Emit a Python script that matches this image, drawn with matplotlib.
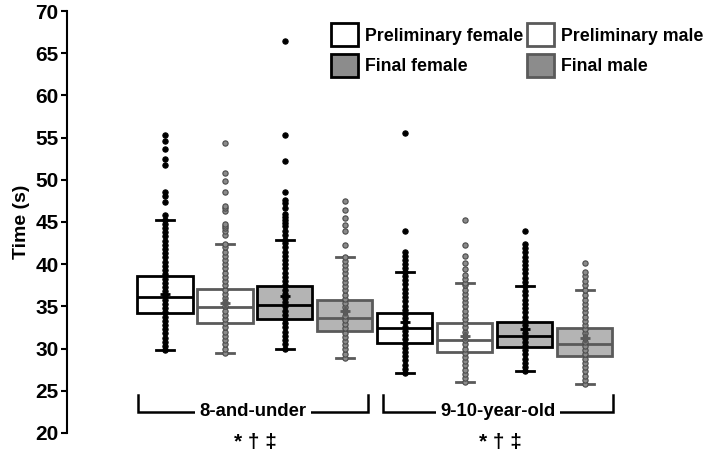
import numpy as np
import matplotlib as mpl
import matplotlib.pyplot as plt
from matplotlib.patches import Patch

mpl.use('Agg')
plt.rcParams['font.family'] = ['Liberation Sans', 'DejaVu Sans']
plt.rcParams['font.weight'] = 'bold'

labels = ['Preliminary female', 'Preliminary male', 'Final female', 'Final male']
groups = ['8-and-under', '9-10-year-old']
stars = '* \u2020 \u2021'

# box statistics, order: PF, PM, FF, FM for 8U then 9-10
q1 = [34.2, 33.0, 33.5, 32.1, 30.7, 29.6, 30.2, 29.1]
med = [36.1, 34.9, 35.2, 33.6, 32.4, 31.0, 31.5, 30.6]
q3 = [38.6, 37.1, 37.4, 35.8, 34.2, 33.0, 33.2, 32.4]
wlo = [29.8, 29.5, 30.0, 28.9, 27.1, 26.0, 27.3, 25.8]
whi = [45.2, 42.4, 42.9, 40.9, 39.1, 37.8, 37.4, 36.9]
means = [36.5, 35.4, 36.2, 34.5, 33.2, 31.5, 32.3, 31.2]

# individual swimmer times (column of dots)
pts = [
    [29.8, 30.3, 30.8, 31.3, 31.8, 32.3, 32.8, 33.3, 33.8, 34.3, 34.8, 35.3, 35.8,
     36.3, 36.8, 37.3, 37.8, 38.3, 38.8, 39.3, 39.8, 40.3, 40.8, 41.3, 41.8, 42.3,
     42.8, 43.3, 43.8, 44.3, 44.8, 45.2, 45.8, 47.4, 48.1, 48.5, 51.7, 52.5, 53.7,
     54.6, 55.3],
    [29.5, 30.0, 30.5, 31.0, 31.5, 32.0, 32.5, 33.0, 33.5, 34.0, 34.5, 35.0, 35.5,
     36.0, 36.5, 37.0, 37.5, 38.0, 38.5, 39.0, 39.5, 40.0, 40.5, 41.0, 41.5, 42.0,
     42.4, 43.5, 43.9, 44.3, 44.5, 44.8, 46.3, 46.6, 46.9, 48.6, 49.8, 50.8, 54.4],
    [30.0, 30.5, 31.0, 31.5, 32.0, 32.5, 33.0, 33.5, 34.0, 34.5, 35.0, 35.5, 36.0,
     36.5, 37.0, 37.5, 38.0, 38.5, 39.0, 39.5, 40.0, 40.5, 41.0, 41.5, 42.0, 42.5,
     42.9, 43.5, 43.9, 44.5, 44.9, 45.2, 45.6, 46.0, 46.6, 47.2, 47.6, 48.6, 52.2,
     55.3, 66.5],
    [28.9, 29.4, 29.9, 30.4, 30.9, 31.4, 31.9, 32.4, 32.9, 33.4, 33.9, 34.4, 34.9,
     35.4, 35.9, 36.4, 36.9, 37.4, 37.9, 38.4, 38.9, 39.4, 39.9, 40.4, 40.9, 42.3,
     43.9, 44.7, 45.5, 46.4, 47.5],
    [27.1, 27.6, 28.1, 28.6, 29.1, 29.6, 30.1, 30.6, 31.1, 31.6, 32.1, 32.6, 33.1,
     33.6, 34.1, 34.6, 35.1, 35.6, 36.1, 36.6, 37.1, 37.6, 38.1, 38.6, 39.1, 39.5,
     40.0, 40.5, 41.0, 41.5, 43.9, 55.6],
    [26.0, 26.5, 27.0, 27.5, 28.0, 28.5, 29.0, 29.5, 30.0, 30.5, 31.0, 31.5, 32.0,
     32.5, 33.0, 33.5, 34.0, 34.5, 35.0, 35.5, 36.0, 36.5, 37.0, 37.5, 37.8, 38.3,
     38.7, 39.4, 40.2, 41.0, 42.3, 45.2],
    [27.3, 27.8, 28.3, 28.8, 29.3, 29.8, 30.3, 30.8, 31.3, 31.8, 32.3, 32.8, 33.3,
     33.8, 34.3, 34.8, 35.3, 35.8, 36.3, 36.8, 37.4, 37.9, 38.4, 38.9, 39.4, 39.9,
     40.4, 40.9, 41.4, 41.9, 42.4, 43.9],
    [25.8, 26.3, 26.8, 27.3, 27.8, 28.3, 28.8, 29.3, 29.8, 30.3, 30.8, 31.3, 31.8,
     32.3, 32.8, 33.3, 33.8, 34.3, 34.8, 35.3, 35.8, 36.3, 36.9, 37.5, 38.0, 38.6,
     39.1, 40.2],
]

box_fill = ['white', 'white', '#b4b4b4', '#b4b4b4']
box_edge = ['black', '#5a5a5a', 'black', '#5a5a5a']
dot_face = ['black', '#8a8a8a', 'black', '#8a8a8a']
dot_edge = ['black', '#4a4a4a', 'black', '#4a4a4a']
leg_fill = ['white', 'white', '#8c8c8c', '#8c8c8c']

fig = plt.figure(figsize=(7.09, 4.53), dpi=100)
ax = fig.add_axes([0.0945, 0.0442, 0.8925, 0.9315])

for i in range(8):
    k = i % 4
    st = dict(med=med[i], q1=q1[i], q3=q3[i], whislo=wlo[i], whishi=whi[i],
              mean=means[i], fliers=[])
    ax.bxp([st], positions=[i], widths=0.92, capwidths=0.3, patch_artist=True,
           showfliers=False, showmeans=True,
           boxprops=dict(facecolor=box_fill[k], edgecolor=box_edge[k], linewidth=2),
           medianprops=dict(color=box_edge[k], linewidth=2),
           whiskerprops=dict(color=box_edge[k], linewidth=2),
           capprops=dict(color=box_edge[k], linewidth=2),
           meanprops=dict(marker='+', markeredgecolor=box_edge[k], markersize=7,
                          markeredgewidth=2, zorder=5))
    ax.plot(np.full(len(pts[i]), i), pts[i], 'o', ms=3.8, mfc=dot_face[k],
            mec=dot_edge[k], mew=0.8, zorder=4)

ax.set_xlim(-1.633, 8.917)
ax.set_ylim(20, 70)
ax.set_yticks(range(20, 71, 5))
ax.set_xticks([])
for s in ['top', 'right', 'bottom']:
    ax.spines[s].set_visible(False)
ax.spines['left'].set_linewidth(1.5)
ax.tick_params(axis='y', length=4, width=1.5, labelsize=15, pad=2)
for t in ax.get_yticklabels():
    t.set_fontweight('bold')
ax.set_ylabel('Time (s)', fontsize=14, fontweight='bold', labelpad=4)

# group brackets
brk = [(-0.45, 3.38), (3.63, 7.47)]
for (a, b), g in zip(brk, groups):
    ax.plot([a, a, b, b], [24.5, 22.5, 22.5, 24.5], color='black', lw=1.8,
            clip_on=False, solid_joinstyle='miter')
    ax.text((a + b) / 2, 22.5, g, ha='center', va='center', fontsize=13.3,
            fontweight='bold', bbox=dict(facecolor='white', edgecolor='none', pad=3))
    ax.text((a + b) / 2 + 0.05, 18.9, stars, ha='center', va='center',
            fontsize=15, fontweight='bold', clip_on=False)

handles = [Patch(facecolor=leg_fill[k], edgecolor=box_edge[k], linewidth=2)
           for k in [0, 2, 1, 3]]
names = [labels[k] for k in [0, 2, 1, 3]]
fig.legend(handles, names, loc='upper left', bbox_to_anchor=(0.455, 0.968),
           ncol=2, frameon=False, handlelength=1.5, handleheight=1.6,
           handletextpad=0.4, columnspacing=0.2, labelspacing=0.45, borderpad=0,
           prop=dict(weight='bold', size=12.8))

fig.savefig('out.png', dpi=100)
